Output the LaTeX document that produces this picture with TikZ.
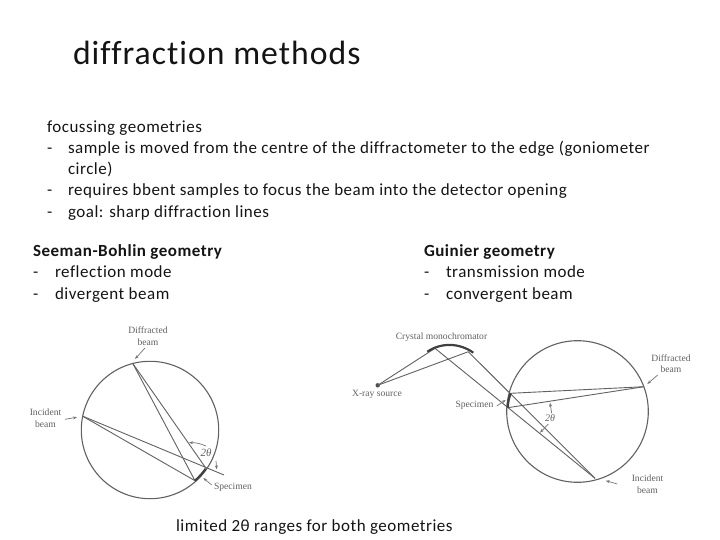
\documentclass[tikz,border=0pt]{standalone}
\usepackage{fontspec}
\setmainfont[RawFeature={-liga;-clig},LetterSpace=3]{Carlito}
\newfontfamily\scanfont{Liberation Serif}
\usetikzlibrary{arrows.meta}
\tikzset{
 txt/.style={anchor=base west,inner sep=0pt,outer sep=0pt,text=black!92,font=\fontsize{17}{18}\selectfont},
 boldtxt/.style={txt,font=\fontsize{17}{18}\selectfont\bfseries},
 scan/.style={inner sep=0pt,outer sep=0pt,align=center,text=black!62,font=\scanfont\fontsize{9.6}{11.5}\selectfont},
 ray/.style={draw=black!62,line width=0.9pt},
 rim/.style={draw=black!62,line width=1.1pt},
 thick arc/.style={draw=black!75,line width=2.2pt},
 pointer/.style={draw=black!55,line width=0.7pt,-{Stealth[length=4pt,width=3pt]}}
}
\begin{document}
\begin{tikzpicture}[x=1pt,y=-1pt]
\useasboundingbox (0,0) rectangle (720,540);
\node[txt,font=\fontsize{33.7}{36}\selectfont] (title) at (73,65) {diffraction methods};
\node[txt] (l1) at (47,132.5) {focussing geometries};
\node[txt] (d1) at (47,153.5) {-};
\node[txt] (l2) at (68,153.5) {sample is moved from the centre of the diffractometer to the edge (goniometer};
\node[txt] (l3) at (68,174.5) {circle)};
\node[txt] (d2) at (47,195.5) {-};
\node[txt] (l4) at (68,195.5) {requires bbent samples to focus the beam into the detector opening};
\node[txt] (d3) at (47,217.5) {-};
\node[txt] (l5) at (68,217.5) {goal: sharp diffraction lines};
\node[boldtxt] (s1) at (33,256.5) {Seeman-Bohlin geometry};
\node[txt] (sd1) at (33,277.5) {-};
\node[txt] (s2) at (55,277.5) {reflection mode};
\node[txt] (sd2) at (33,299.5) {-};
\node[txt] (s3) at (55,299.5) {divergent beam};
\node[boldtxt] (g1) at (424,256.5) {Guinier geometry};
\node[txt] (gd1) at (424,277.5) {-};
\node[txt] (g2) at (446,277.5) {transmission mode};
\node[txt] (gd2) at (424,299.5) {-};
\node[txt] (g3) at (446,299.5) {convergent beam};
\node[txt] (bottom) at (176,531) {limited 2θ ranges for both geometries};
% left geometry
\coordinate (lc) at (150,430);
\draw[rim] (lc) circle (68.7);
\coordinate (ldiff) at (132.7,363.3);
\coordinate (linc) at (82.3,416);
\coordinate (ls1) at (195,480.7);
\coordinate (ls2) at (205.3,467.3);
\coordinate (lext) at (224,475);
\draw[ray] (ldiff) -- (ls1);
\draw[ray] (ldiff) -- (ls2);
\draw[ray] (linc) -- (ls1);
\draw[ray] (linc) -- (lext);
\draw[thick arc] (ls1) arc[start angle=48.5,end angle=35,radius=68.7] ;
\node[scan] (ld) at (148,336) {Diffracted\\beam};
\node[scan] (li) at (45.5,418) {Incident\\beam};
\node[scan,anchor=west] (lsp) at (214,487.5) {Specimen};
\node[scan,font=\scanfont\itshape\fontsize{11}{12}\selectfont] (ltt) at (206,453) {2θ};
\coordinate (lpa) at (145,348);\coordinate (lpb) at (135,359);
\draw[pointer] (lpa) -- (lpb);
\coordinate (lpc) at (65,419.3);\coordinate (lpd) at (77,417.3);
\draw[pointer] (lpc) -- (lpd);
\coordinate (lpe) at (211.7,485);\coordinate (lpf) at (203.3,478);
\draw[pointer] (lpe) -- (lpf);
\coordinate (laa) at (206,446);\coordinate (lab) at (189,442.7);
\draw[pointer] (laa) to[bend right=12] (lab);
\coordinate (lba) at (216,461);\coordinate (lbb) at (216.7,469.3);
\draw[pointer] (lba) -- (lbb);
% right geometry
\coordinate (rc) at (577.5,411.5);
\draw[rim] (rc) circle (70.8);
\coordinate (src) at (377.7,385.3);
\fill[black!70] (src) circle (2.2);
\coordinate (m1) at (435,348.3);
\coordinate (m2) at (468.3,351.7);
\coordinate (rinc) at (595,478.3);
\coordinate (rs1) at (510.7,393.3);
\coordinate (rs2) at (507.7,407.7);
\coordinate (rdiff) at (644,386.7);
\draw[ray] (src) -- (m1);
\draw[ray] (src) -- (m2);
\draw[ray] (m1) -- (rinc);
\draw[ray] (m2) -- (rinc);
\draw[ray] (rs1) -- (rdiff);
\draw[ray] (rs2) -- (rdiff);
\coordinate (mon1) at (427.3,351.7);
\coordinate (mon2) at (473.3,352.7);
\draw[thick arc] (mon1) .. controls (441,342.5) and (459,342.5) .. (mon2);
\draw[thick arc] (rs1) to[bend right=8] (rs2);
\node[scan] (rcm) at (441.5,337) {Crystal monochromator};
\node[scan] (rx) at (377,394.7) {X-ray source};
\node[scan] (rsp) at (474.5,405) {Specimen};
\node[scan] (rd) at (671,363.5) {Diffracted\\beam};
\node[scan] (ri) at (647.5,484) {Incident\\beam};
\node[scan,font=\scanfont\itshape\fontsize{10}{11}\selectfont] (rtt) at (550,418) {2θ};
\coordinate (rpa) at (657.7,375);\coordinate (rpb) at (647.3,384);
\draw[pointer] (rpa) -- (rpb);
\coordinate (rpc) at (617.3,484);\coordinate (rpd) at (605.7,480.7);
\draw[pointer] (rpc) -- (rpd);
\coordinate (rpe) at (496.7,406);\coordinate (rpf) at (505.7,400);
\draw[pointer] (rpe) -- (rpf);
\coordinate (raa) at (551.7,413.3);\coordinate (rab) at (550,402.7);
\draw[pointer] (raa) -- (rab);
\coordinate (rba) at (548.3,424);\coordinate (rbb) at (540,432.7);
\draw[pointer] (rba) -- (rbb);
\end{tikzpicture}
\end{document}
